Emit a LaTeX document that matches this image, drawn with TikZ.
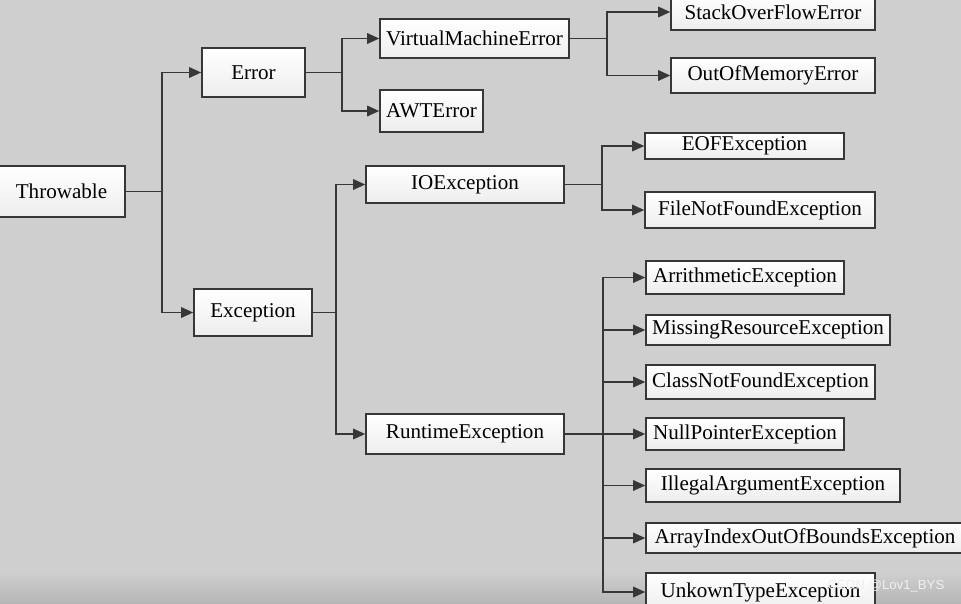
\documentclass[tikz,border=0pt]{standalone}
\usepackage{fontspec}
\setmainfont{Liberation Serif}
\newfontfamily\marksans{Liberation Sans}
\usetikzlibrary{arrows.meta}
\definecolor{bggray}{RGB}{207,207,207}
\definecolor{linegray}{RGB}{55,55,55}
\begin{document}
\begin{tikzpicture}[x=0.02cm, y=-0.02cm,
  cls/.style={draw=linegray, line width=0.9pt, top color=white, bottom color=white!93!black, inner sep=0pt, font=\fontsize{12}{14}\selectfont},
  link/.style={draw=linegray, line width=0.9pt},
  arr/.style={link, -{Triangle[length=2.4mm, width=2.1mm]}}]
\useasboundingbox (0,0) rectangle (961,603);
\fill[bggray] (0,0) rectangle (961,603);
\shade[top color=bggray, bottom color=bggray!88!black] (0,572) rectangle (961,603);
\node[cls, minimum width=2.54cm, minimum height=1.02cm] (throw) at (61.5,191.5) {Throwable};
\node[cls, minimum width=2.06cm, minimum height=0.98cm] (error) at (253.5,72.5) {Error};
\node[cls, minimum width=3.78cm, minimum height=0.78cm] (vme) at (474.5,38.5) {VirtualMachineError};
\node[cls, minimum width=2.06cm, minimum height=0.84cm] (awt) at (431.5,111) {AWTError};
\node[cls, minimum width=4.08cm, minimum height=0.72cm] (sof) at (773,12) {StackOverFlowError};
\node[cls, minimum width=4.08cm, minimum height=0.70cm] (oom) at (773,75.5) {OutOfMemoryError};
\node[cls, minimum width=2.36cm, minimum height=0.94cm] (exc) at (253,312.5) {Exception};
\node[cls, minimum width=3.96cm, minimum height=0.74cm] (ioe) at (465,184.5) {IOException};
\node[cls, minimum width=3.98cm, minimum height=0.52cm] (eof) at (744.5,146) {EOFException};
\node[cls, minimum width=4.60cm, minimum height=0.72cm] (fnf) at (760,210) {FileNotFoundException};
\node[cls, minimum width=3.96cm, minimum height=0.80cm] (rte) at (465,434) {RuntimeException};
\node[cls, minimum width=3.96cm, minimum height=0.66cm] (ari) at (745,277.5) {ArrithmeticException};
\node[cls, minimum width=4.88cm, minimum height=0.60cm] (mis) at (768,330) {MissingResourceException};
\node[cls, minimum width=4.58cm, minimum height=0.68cm] (cnf) at (760.5,382) {ClassNotFoundException};
\node[cls, minimum width=3.96cm, minimum height=0.64cm] (npe) at (745,434) {NullPointerException};
\node[cls, minimum width=5.08cm, minimum height=0.66cm] (iae) at (773,485.5) {IllegalArgumentException};
\node[cls, minimum width=6.36cm, minimum height=0.60cm] (aio) at (805,538) {ArrayIndexOutOfBoundsException};
\node[cls, minimum width=4.58cm, minimum height=0.76cm] (ute) at (760.5,592) {UnkownTypeException};
\node[font=\marksans\fontsize{7.5}{9}\selectfont, text=white!88!gray] (mark) at (886,586) {CSDN @Lov1\_BYS};
\coordinate (j1) at (162,191.5);
\coordinate (j2) at (342,72.5);
\coordinate (j3) at (607,38.5);
\coordinate (j4) at (336,312.5);
\coordinate (j5) at (602,184.5);
\coordinate (j6) at (603,434);
\draw[link] (throw) -- (j1);
\draw[arr] (j1) |- (error);
\draw[arr] (j1) |- (exc);
\draw[link] (error) -- (j2);
\draw[arr] (j2) |- (vme);
\draw[arr] (j2) |- (awt);
\draw[link] (vme) -- (j3);
\draw[arr] (j3) |- (sof);
\draw[arr] (j3) |- (oom);
\draw[link] (exc) -- (j4);
\draw[arr] (j4) |- (ioe);
\draw[arr] (j4) |- (rte);
\draw[link] (ioe) -- (j5);
\draw[arr] (j5) |- (eof);
\draw[arr] (j5) |- (fnf);
\draw[link] (rte) -- (j6);
\draw[arr] (j6) |- (ari);
\draw[arr] (j6) |- (mis);
\draw[arr] (j6) |- (cnf);
\draw[arr] (j6) |- (npe);
\draw[arr] (j6) |- (iae);
\draw[arr] (j6) |- (aio);
\draw[arr] (j6) |- (ute);
\end{tikzpicture}
\end{document}
